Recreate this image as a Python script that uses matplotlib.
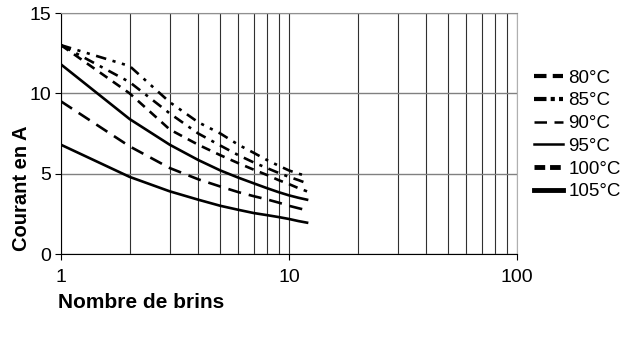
import matplotlib
matplotlib.use("Agg")
import matplotlib.pyplot as plt
from matplotlib.lines import Line2D

plt.rcParams['font.family'] = ['Liberation Sans', 'DejaVu Sans']

# nombre de brins
brins = [1, 2, 3, 4, 5, 6, 7, 8, 9, 10, 11, 12]

# courant (A) pour chaque courbe
c80 = [13.0, 11.7, 9.45, 8.2, 7.5, 6.8, 6.3, 5.85, 5.5, 5.2, 5.0, 4.85]
c85 = [13.0, 10.7, 8.75, 7.5, 6.75, 6.15, 5.7, 5.35, 5.05, 4.8, 4.6, 4.4]
c90 = [13.0, 10.0, 7.75, 6.8, 6.15, 5.65, 5.25, 4.92, 4.6, 4.35, 4.1, 3.9]
c95 = [11.8, 8.4, 6.8, 5.85, 5.2, 4.75, 4.4, 4.1, 3.85, 3.65, 3.5, 3.38]
c100 = [9.5, 6.7, 5.35, 4.65, 4.2, 3.85, 3.6, 3.4, 3.2, 3.0, 2.85, 2.72]
c105 = [6.8, 4.8, 3.9, 3.38, 3.0, 2.75, 2.55, 2.42, 2.3, 2.18, 2.05, 1.95]

labels = ['80°C', '85°C', '90°C', '95°C', '100°C', '105°C']

fig = plt.figure(figsize=(6.36, 3.52), dpi=100)
ax = fig.add_axes([0.0959, 0.2784, 0.717, 0.6846])

lw = 1.9
ax.plot(brins, c80, color='black', lw=lw, dashes=[4, 2.5, 1.2, 2.5, 1.2, 2.5])
ax.plot(brins, c85, color='black', lw=lw, dashes=[4, 2.5, 1.2, 2.5])
ax.plot(brins, c90, color='black', lw=lw, dashes=[3.5, 2.5])
ax.plot(brins, c95, color='black', lw=lw)
ax.plot(brins, c100, color='black', lw=lw, dashes=[5, 3])
ax.plot(brins, c105, color='black', lw=lw)

ax.set_xscale('log')
ax.set_xlim(1, 100)
ax.set_ylim(0, 15)
ax.set_yticks([0, 5, 10, 15])
ax.set_xticks([1, 10, 100])
ax.set_xticklabels(['1', '10', '100'])

ax.grid(True, which='minor', axis='x', color='#303030', lw=0.8)
ax.grid(True, which='major', axis='x', color='#303030', lw=0.8)
ax.grid(True, which='major', axis='y', color='#808080', lw=1.0)
ax.minorticks_on()
ax.tick_params(axis='x', which='major', length=4, pad=7, labelsize=14)
ax.tick_params(axis='y', length=4, pad=3, labelsize=14)
ax.tick_params(axis='y', which='minor', left=False)
ax.tick_params(axis='x', which='minor', length=0)

ax.spines['top'].set_color('#909090')
ax.spines['right'].set_color('#b0b0b0')

fig.text(22 / 636, 1 - 188 / 352, 'Courant en A', fontsize=14.5,
         fontweight='bold', rotation=90, ha='center', va='center')
fig.text(58 / 636, 1 - 302 / 352, 'Nombre de brins', fontsize=15,
         fontweight='bold', ha='left', va='center')

handles = [
    Line2D([], [], color='black', lw=3, dashes=[3, 1.5]),
    Line2D([], [], color='black', lw=3, dashes=[3, 1, 1, 1, 1, 1]),
    Line2D([], [], color='black', lw=1.8, dashes=[5, 3]),
    Line2D([], [], color='black', lw=1.8),
    Line2D([], [], color='black', lw=3.5, dashes=[2.2, 1]),
    Line2D([], [], color='black', lw=3.5),
]
fig.legend(handles, labels, loc='center left',
           bbox_to_anchor=(525 / 636, 1 - 135 / 352), frameon=False,
           fontsize=13.5, handlelength=1.5, handletextpad=0.3,
           labelspacing=0.3, borderpad=0)

fig.savefig('out.png', dpi=100)
